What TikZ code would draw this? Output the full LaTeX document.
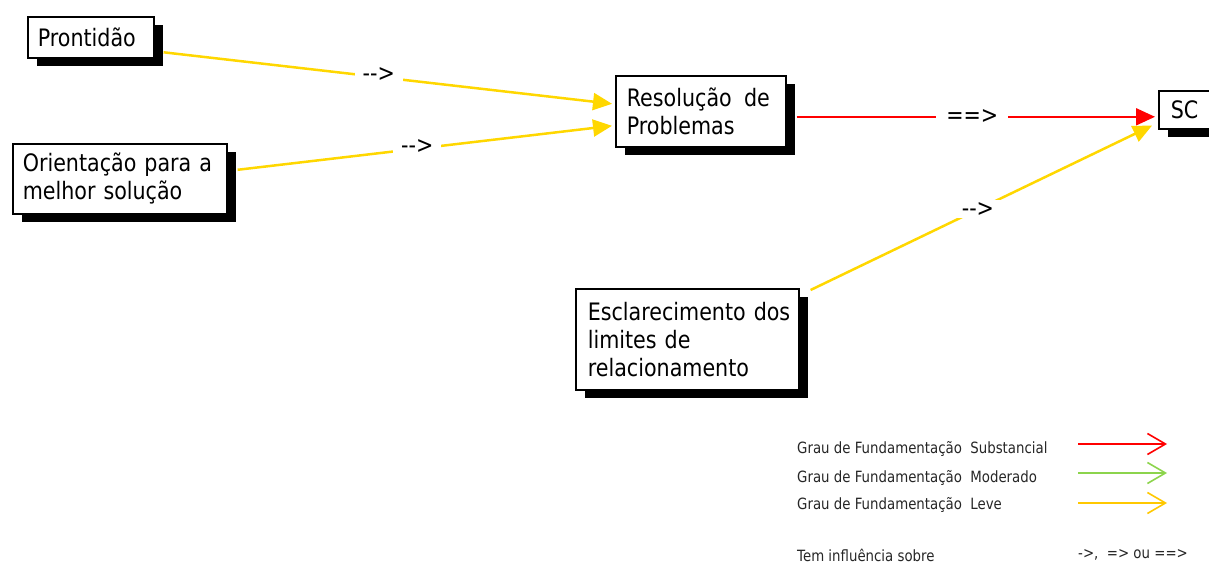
\documentclass[tikz,border=0pt]{standalone}
\usepackage{fontspec}
\setmainfont{DejaVu Sans}[FakeStretch=0.86]
\usetikzlibrary{arrows.meta,shadows,calc}
\definecolor{lineyellow}{HTML}{FFD700}
\definecolor{legyellow}{HTML}{FFC800}
\definecolor{leggreen}{HTML}{8CD44C}
\definecolor{linered}{HTML}{FF0000}
\tikzset{
  box/.style={draw=black, line width=1.6pt, fill=white, rectangle, inner xsep=0pt, inner ysep=4pt,
    align=left, font=\fontsize{24}{28}\selectfont, anchor=north west,
    drop shadow={shadow xshift=9pt, shadow yshift=-8pt, fill=black, opacity=1}},
  yel/.style={draw=lineyellow, line width=2.5pt, -{Triangle[length=19pt,width=17pt]}},
  redl/.style={draw=linered, line width=2pt, -{Triangle[length=19pt,width=17pt]}},
  lbl/.style={fill=white, inner xsep=8pt, inner ysep=2pt, font=\fontsize{24}{26}\selectfont, text=black},
  legtxt/.style={font=\fontsize{15.5}{18}\selectfont, anchor=west, inner sep=0pt, text=black!85},
  legarr/.style={line width=1.6pt, -{Straight Barb[length=18pt,width=21pt,line width=1.6pt]}}
}
\begin{document}
\begin{tikzpicture}[x=1pt,y=-1pt]
\useasboundingbox (0,0) rectangle (1209,564);
% boxes
\node[box, minimum width=126pt, minimum height=41pt, text width=106pt] (pront) at (27,16) {Prontidão};
\node[box, minimum width=214pt, minimum height=70pt, text width=194pt] (orient) at (12,143) {Orientação para a\\melhor solução};
\node[box, minimum width=170pt, minimum height=71pt, text width=148pt] (res) at (615,75) {\makebox[143pt][l]{Resolução\hfill de}\\Problemas};
\node[box, minimum width=66pt, minimum height=38pt, text width=42pt] (sc) at (1158,90) {SC};
\node[box, minimum width=223pt, minimum height=101pt, text width=199pt] (escl) at (575,288) {\mbox{Esclarecimento dos}\\limites de\\relacionamento};
% connectors
\draw[yel] ([xshift=9pt,yshift=-15pt]pront.east) -- node[lbl, pos=0.48, yshift=2pt] {-{}->} ([xshift=-3pt,yshift=7.5pt]res.west);
\draw[yel] ([xshift=10pt,yshift=9pt]orient.east) -- node[lbl, pos=0.48, yshift=2pt] {-{}->} ([xshift=-3pt,yshift=-14.5pt]res.west);
\draw[redl] ([xshift=10pt,yshift=-5.5pt]res.east) -- node[lbl, pos=0.49, inner xsep=10pt] {==>} ([xshift=-3pt,yshift=-7pt]sc.west);
\draw[yel] ([xshift=11pt,yshift=-2pt]escl.north east) -- node[lbl, pos=0.49, inner xsep=8pt] {-{}->} ([xshift=-6pt,yshift=4pt]sc.south west);
% legend
\node[legtxt] (l1) at (797,449) {Grau de Fundamentação\ \ Substancial};
\node[legtxt] (l2) at (797,478) {Grau de Fundamentação\ \ Moderado};
\node[legtxt] (l3) at (797,505) {Grau de Fundamentação\ \ Leve};
\node[legtxt] (l4) at (797,555) {Tem influência sobre};
\node[legtxt] (l5) at (1078,555) {->,\ \ => ou ==>};
\coordinate (a1s) at (1078,444); \coordinate (a1e) at (1167,444);
\coordinate (a2s) at (1078,473); \coordinate (a2e) at (1167,473);
\coordinate (a3s) at (1078,503); \coordinate (a3e) at (1167,503);
\draw[legarr, draw=linered] (a1s) -- (a1e);
\draw[legarr, draw=leggreen] (a2s) -- (a2e);
\draw[legarr, draw=legyellow] (a3s) -- (a3e);
\end{tikzpicture}
\end{document}
